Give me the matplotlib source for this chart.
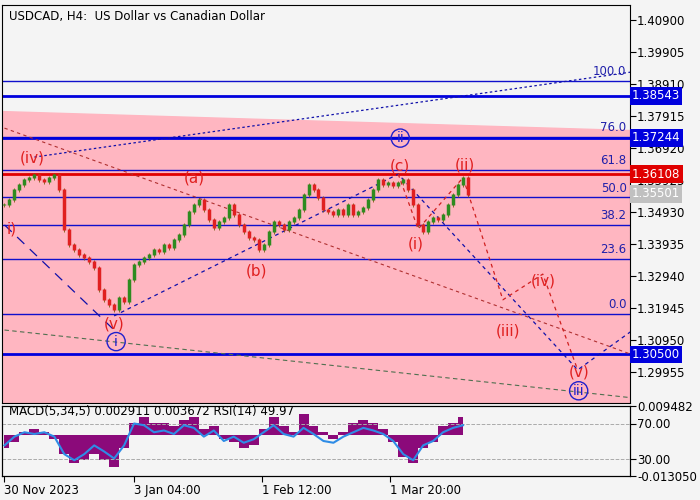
import numpy as np
import matplotlib.pyplot as plt

# H4 closes, one value every ~5 px of the chart
closes = [1.3515, 1.3531, 1.3562, 1.3577, 1.3593, 1.3599, 1.3608, 1.3593, 1.3587, 1.3599,
          1.3608, 1.3562, 1.3437, 1.3391, 1.3375, 1.3360, 1.3350, 1.3338, 1.3319, 1.3251,
          1.3220, 1.3204, 1.3188, 1.3226, 1.3213, 1.3282, 1.3329, 1.3338, 1.3350, 1.3360,
          1.3375, 1.3369, 1.3391, 1.3381, 1.3406, 1.3422, 1.3453, 1.3493, 1.3515, 1.3531,
          1.3499, 1.3468, 1.3443, 1.3462, 1.3475, 1.3515, 1.3484, 1.3453, 1.3431, 1.3412,
          1.3406, 1.3375, 1.3391, 1.3431, 1.3462, 1.3453, 1.3437, 1.3462, 1.3475, 1.3499,
          1.3546, 1.3577, 1.3562, 1.3537, 1.3499, 1.3493, 1.3484, 1.3499, 1.3484, 1.3515,
          1.3484, 1.3493, 1.3506, 1.3531, 1.3562, 1.3593, 1.3577, 1.3583, 1.3574, 1.3583,
          1.3593, 1.3562, 1.3515, 1.3453, 1.3431, 1.3462, 1.3475, 1.3468, 1.3484, 1.3515,
          1.3546, 1.3577, 1.3599, 1.3546]

rsi = [45, 55, 60, 58, 60, 55, 35, 28, 35, 45, 38, 30, 45, 70, 68, 60, 62, 58, 68, 65,
       55, 62, 50, 55, 48, 52, 60, 68, 58, 55, 65, 58, 50, 48, 55, 60, 65, 62, 58, 50,
       35, 28, 45, 50, 60, 65, 68]
macd = [-0.004, -0.002, 0.001, 0.002, 0.001, -0.001, -0.006, -0.009, -0.008, -0.006,
        -0.008, -0.010, -0.004, 0.004, 0.006, 0.004, 0.004, 0.003, 0.005, 0.006,
        0.002, 0.003, -0.001, -0.002, -0.004, -0.003, 0.002, 0.006, 0.003, 0.001,
        0.007, 0.003, 0.001, -0.001, 0.001, 0.004, 0.005, 0.004, 0.002, -0.002,
        -0.007, -0.009, -0.004, -0.002, 0.003, 0.004, 0.006]

fib_low, fib_high = 1.3176, 1.3901
fib_pct = [0.0, 23.6, 38.2, 50.0, 61.8, 76.0, 100.0]
thick_blue = [1.38543, 1.37244, 1.30500]
red_level = 1.36108
price_now = 1.35501
yticks = [1.40900, 1.39905, 1.38910, 1.37915, 1.36920, 1.35925, 1.34930,
          1.33935, 1.32940, 1.31945, 1.30950, 1.29955]
date_pos = [0, 26, 51.6, 77.4]
date_labels = ["30 Nov 2023", "3 Jan 04:00", "1 Feb 12:00", "1 Mar 20:00"]

wave_red = ([79, 83, 92, 100, 108, 115], [1.3611, 1.3440, 1.3600, 1.3220, 1.3300, 1.3002])
wave_blue = ([22, 79, 115, 126], [1.3170, 1.3611, 1.3002, 1.3125])

plt.rcParams['font.family'] = 'DejaVu Sans'
fig = plt.figure(figsize=(7, 5), dpi=100, facecolor='#f4f4f4')
ax = fig.add_axes([2/700, 1-403/500, 628/700, 398/500])
ax.set_facecolor('#f4f4f4')
xl = (-0.5, 125.5)
ymin, ymax = 1.2899, 1.4137
ax.set_xlim(xl)
ax.set_ylim(ymin, ymax)

# pink zone
ax.fill_between([xl[0], xl[1]], [1.3807, 1.3748], ymin, color='#ffb6c1', zorder=0)

# candles
prev = closes[0]
for i, c in enumerate(closes):
    col = '#2e8b20' if c >= prev else '#e02020'
    lo, hi = min(prev, c), max(prev, c)
    ax.vlines(i, lo - 0.0006, hi + 0.0006, color='#7a5a10', lw=0.6, zorder=3)
    ax.vlines(i, lo, hi + 0.0002, color=col, lw=2.5, zorder=3)
    prev = c

for p in fib_pct:
    lv = fib_low + (fib_high - fib_low) * p / 100
    ax.axhline(lv, color='#1010cc', lw=1, zorder=2)
    ax.text(124.8, lv + 0.0008, f"{p:.1f}", color='#2020aa', ha='right', va='bottom', fontsize=8.5)
for lv in thick_blue:
    ax.axhline(lv, color='#0000dd', lw=2, zorder=2)
ax.axhline(red_level, color='#e00000', lw=2, zorder=2)

# trend lines
ax.plot([6, 126], [1.3664, 1.3929], ls=(0, (2, 2)), color='#1010aa', lw=0.9)
ax.plot([0, 126], [1.3754, 1.3049], ls=(0, (3, 3)), color='#b03030', lw=0.8)
ax.plot([0, 126], [1.3126, 1.2915], ls=(0, (4, 3)), color='#507050', lw=0.8)
ax.plot([0, 22], [1.3453, 1.3126], ls=(0, (8, 6)), color='#1010aa', lw=0.9)
ax.plot(*wave_blue, ls=(0, (3, 3)), color='#1010aa', lw=0.9)
ax.plot(*wave_red, ls=(0, (3, 3)), color='#d02020', lw=0.9)

red_labels = [("(iv)", 5.5, 1.3660), ("i)", 1.5, 1.3440), ("(v)", 22, 1.3145), ("(a)", 38, 1.3600),
              ("(b)", 50.5, 1.3310), ("(c)", 79.3, 1.3635), ("(ii)", 92.3, 1.3640), ("(i)", 82.5, 1.3395),
              ("(iii)", 101, 1.3122), ("(iv)", 108, 1.3277), ("(v)", 115.3, 1.2995)]
for t, x, y in red_labels:
    ax.text(x, y, t, color='#e02020', fontsize=11, ha='center', va='center', zorder=5)
blue_labels = [("i", 22.4, 1.3090), ("ii", 79.4, 1.3723), ("iii", 115.2, 1.2937)]
for t, x, y in blue_labels:
    ax.text(x, y, t, color='#2020cc', fontsize=10, ha='center', va='center', zorder=5,
            bbox=dict(boxstyle='circle,pad=0.15', fc='none', ec='#2020cc', lw=1))

ax.text(1, 1.4100, "USDCAD, H4:  US Dollar vs Canadian Dollar", fontsize=8.5, va='center')

ax.yaxis.tick_right()
ax.set_yticks(yticks)
ax.set_yticklabels([f"{v:.5f}" for v in yticks], fontsize=8.5)
ax.tick_params(axis='y', length=4, pad=1)
ax.set_xticks([])
for lv, fc, tc in [(1.38543, '#0000dd', 'white'), (1.37244, '#0000dd', 'white'),
                   (red_level, '#e00000', 'white'), (price_now, '#c0c0c0', 'white'),
                   (1.30500, '#0000dd', 'white')]:
    ax.text(1.003, lv, f"{lv:.5f}", transform=ax.get_yaxis_transform(), color=tc,
            fontsize=8.5, va='center', ha='left', zorder=6,
            bbox=dict(boxstyle='square,pad=0.2', fc=fc, ec='none'))

# indicator panel
ax2 = fig.add_axes([2/700, 1-476/500, 628/700, 70/500])
ax2.set_facecolor('#f4f4f4')
ax2.set_xlim(xl)
ax2.set_ylim(10, 90)
xs = np.arange(len(rsi)) * 2
axm = ax2.twinx()
axm.set_ylim(-0.01305, 0.009482)
axm.fill_between(xs, 0, macd, step='mid', color='#8b0a7a', lw=0)
axm.set_yticks([])
ax2.set_zorder(axm.get_zorder() + 1)
ax2.patch.set_visible(False)
ax2.axhline(70, color='#aaaaaa', ls='--', lw=0.7)
ax2.axhline(30, color='#aaaaaa', ls='--', lw=0.7)
ax2.plot(xs, rsi, color='#2e8ce6', lw=1.5)
ax2.yaxis.tick_right()
ax2.set_yticks([90, 70, 30, 10])
ax2.set_yticklabels(["0.009482", "70.00", "30.00", "-0.013050"], fontsize=8.5)
ax2.tick_params(axis='y', length=4, pad=1)
ax2.set_xticks(date_pos)
ax2.set_xticklabels(date_labels, fontsize=8.5, ha='left')
ax2.tick_params(axis='x', length=4, pad=2)
ax2.text(1, 84, "MACD(5,34,5) 0.002911 0.003672 RSI(14) 49.97", fontsize=8.5, va='center')

fig.savefig("out.png", dpi=100, facecolor=fig.get_facecolor())
